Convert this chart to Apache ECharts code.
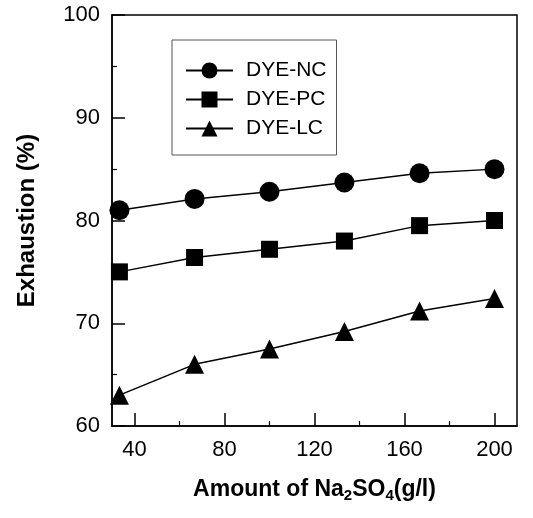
<!DOCTYPE html>
<html>
<head>
<meta charset="utf-8">
<script src="https://cdn.jsdelivr.net/npm/echarts@6/dist/echarts.min.js"></script>
<style>html,body{margin:0;padding:0;background:#fff}#c{width:533px;height:518px}</style>
</head>
<body>
<div id="c"></div>
<script>
const saltAmounts = [33.3, 66.7, 100, 133.3, 166.7, 200];
const dyeNC = [81.0, 82.1, 82.8, 83.7, 84.6, 85.0];
const dyePC = [75.0, 76.4, 77.2, 78.0, 79.5, 80.0];
const dyeLC = [63.0, 66.0, 67.5, 69.2, 71.2, 72.4];
const seriesNames = ['DYE-NC', 'DYE-PC', 'DYE-LC'];
const xMajorTicks = [40, 80, 120, 160, 200];
const xMinorTicks = [60, 100, 140, 180];

const FONT = '"Liberation Sans", Arial, sans-serif';
const pairs = ys => saltAmounts.map((x, i) => [x, ys[i]]);

const chart = echarts.init(document.getElementById('c'), null, {renderer: 'canvas'});
const mk = (name, ys, symbol, size) => ({
  name, type: 'line', data: pairs(ys), symbol, symbolSize: size,
  xAxisIndex: 0, yAxisIndex: 0,
  lineStyle: {color: '#000', width: 1.5},
  itemStyle: {color: '#000'},
  animation: false
});

chart.setOption({
  animation: false,
  grid: {left: 112, right: 16, top: 15, bottom: 92, show: true, borderColor: '#000', borderWidth: 1.5, backgroundColor: 'transparent'},
  legend: {
    orient: 'vertical', left: 172, top: 40,
    data: seriesNames,
    itemWidth: 47, itemHeight: 20, itemGap: 8,
    padding: [20, 10, 16, 13],
    borderColor: '#555', borderWidth: 1,
    textStyle: {fontFamily: FONT, fontSize: 21, color: '#000', padding: [0, 0, 0, 8]}
  },
  xAxis: [{
    type: 'value', min: 30, max: 210,
    name: '{a|Amount of Na}{s|2}{a|SO}{s|4}{a|(g/l)}',
    nameLocation: 'middle', nameGap: 50,
    nameTextStyle: {
      rich: {
        a: {fontFamily: FONT, fontSize: 23, fontWeight: 'bold', color: '#000'},
        s: {fontFamily: FONT, fontSize: 15, fontWeight: 'bold', color: '#000', padding: [12, 0, 0, 0]}
      }
    },
    axisLine: {show: true, lineStyle: {color: '#000', width: 1.5}},
    axisTick: {show: true, inside: true, length: 13, customValues: xMajorTicks, lineStyle: {color: '#000', width: 1.5}},
    axisLabel: {customValues: xMajorTicks, fontFamily: FONT, fontSize: 22, color: '#000', margin: 13},
    splitLine: {show: false}
  }, {
    type: 'value', min: 30, max: 210, position: 'bottom', gridIndex: 0,
    axisLine: {show: true, onZero: false, lineStyle: {color: 'rgba(0,0,0,0)'}},
    axisTick: {show: true, inside: true, length: 5, customValues: xMinorTicks, lineStyle: {color: '#000', width: 1.2}},
    axisLabel: {show: false, customValues: xMinorTicks},
    splitLine: {show: false}
  }],
  yAxis: {
    type: 'value', min: 60, max: 100, interval: 10,
    name: 'Exhaustion (%)', nameLocation: 'middle', nameGap: 73,
    nameTextStyle: {fontFamily: FONT, fontSize: 24, fontWeight: 'bold', color: '#000'},
    axisLine: {show: true, lineStyle: {color: '#000', width: 1.5}},
    axisTick: {show: true, inside: true, length: 13, lineStyle: {color: '#000', width: 1.5}},
    minorTick: {show: true, splitNumber: 2, length: 5, lineStyle: {color: '#000', width: 1.2}},
    axisLabel: {fontFamily: FONT, fontSize: 22, color: '#000', margin: 12},
    splitLine: {show: false}
  },
  series: [
    mk(seriesNames[0], dyeNC, 'circle', 20),
    mk(seriesNames[1], dyePC, 'rect', 17),
    mk(seriesNames[2], dyeLC, 'triangle', 19)
  ]
});
</script>
</body>
</html>
